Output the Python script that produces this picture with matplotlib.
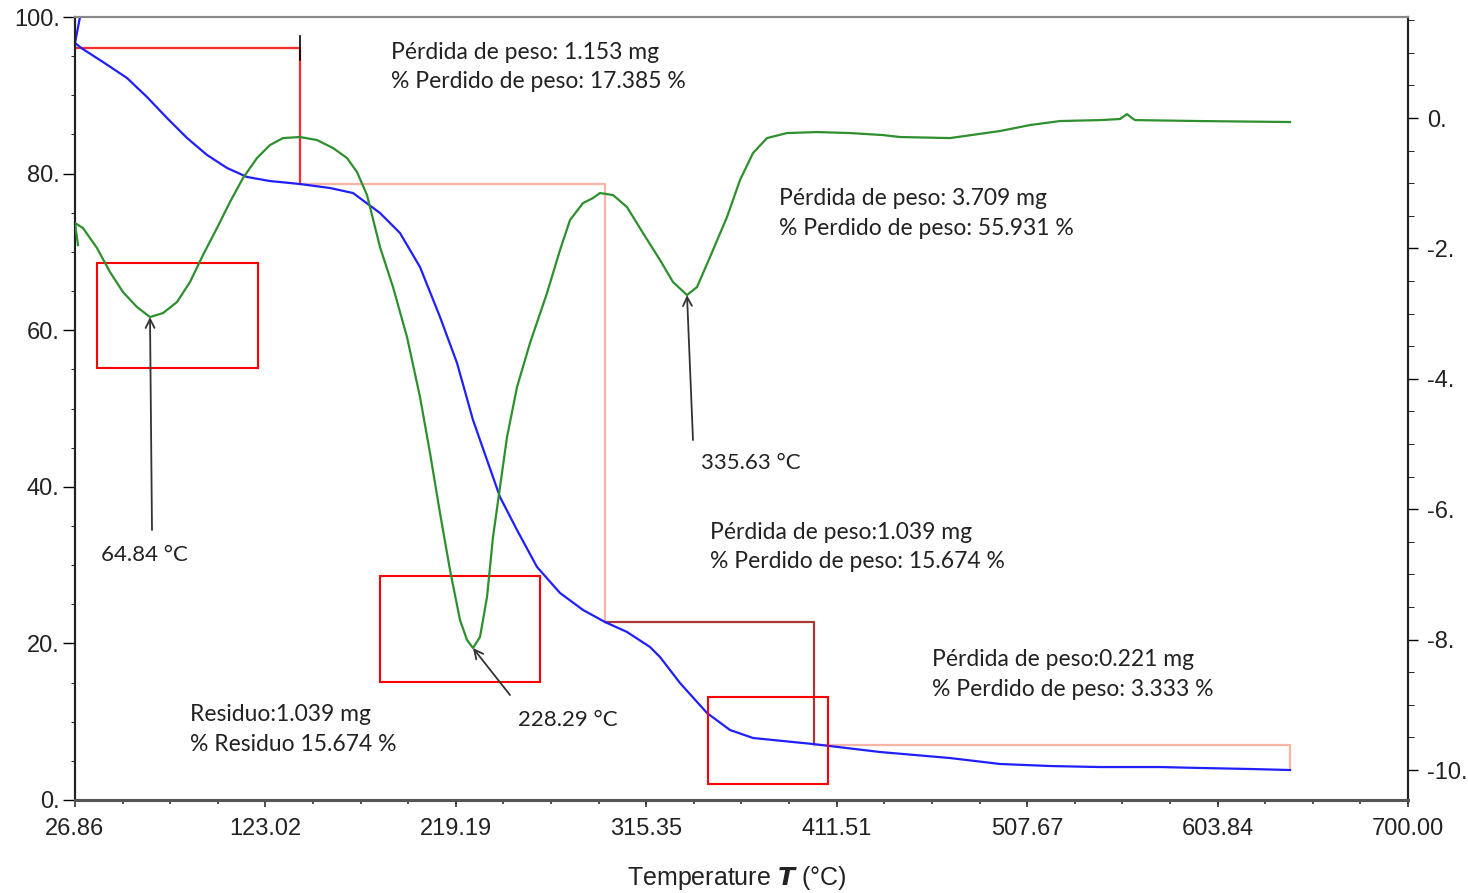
import numpy as np
import matplotlib.pyplot as plt
from matplotlib.ticker import MultipleLocator, FixedLocator, FuncFormatter

# TGA curve (left axis, weight %)
tga_temp = [29.38, 26.86, 30.24, 41.00, 53.12, 63.22, 73.32, 83.42, 93.52, 103.62,
            113.72, 125.33, 140.48, 155.63, 167.25, 180.88, 190.98, 201.08, 211.18,
            219.77, 227.85, 234.92, 241.48, 250.07, 260.17, 271.78, 283.40, 294.50,
            305.61, 317.23, 322.28, 332.38, 346.01, 357.63, 369.24, 399.54, 433.38,
            468.73, 493.98, 519.23, 544.47, 574.77, 594.97, 620.22, 640.42]
tga_weight = [100.0, 96.68, 96.00, 94.25, 92.21, 89.78, 87.10, 84.55, 82.38, 80.72,
              79.57, 79.05, 78.67, 78.16, 77.52, 74.97, 72.41, 68.07, 61.69,
              55.81, 48.53, 43.42, 38.70, 34.48, 29.76, 26.44, 24.27, 22.73,
              21.46, 19.54, 18.26, 14.94, 11.11, 8.94, 7.92, 7.15, 6.13,
              5.36, 4.60, 4.34, 4.21, 4.21, 4.09, 3.96, 3.83]

# DTG curve (right axis)
dtg_temp = [28.37, 26.86, 30.90, 37.97, 44.53, 51.10, 58.17, 64.73, 71.30, 78.37,
            84.93, 91.50, 98.57, 105.13, 111.70, 118.77, 125.33, 131.90, 140.48,
            149.07, 157.15, 164.22, 169.27, 174.32, 180.88, 187.45, 194.52, 201.08,
            206.13, 211.18, 216.23, 221.28, 224.82, 227.85, 231.38, 234.92, 237.95,
            241.48, 245.02, 250.07, 256.63, 265.22, 271.78, 276.83, 283.40, 288.45,
            291.98, 298.54, 305.61, 313.69, 322.28, 328.84, 335.91, 340.96, 347.53,
            356.11, 362.68, 369.24, 376.31, 386.41, 401.56, 418.23, 434.89, 443.48,
            468.73, 493.98, 509.13, 524.28, 544.47, 554.57, 558.11, 560.63, 562.15,
            594.97, 640.42]
dtg_value = [-1.948, -1.610, -1.687, -1.994, -2.362, -2.669, -2.899, -3.052, -2.991, -2.822,
             -2.515, -2.101, -1.687, -1.288, -0.920, -0.613, -0.414, -0.307, -0.291,
             -0.337, -0.460, -0.613, -0.828, -1.181, -1.979, -2.592, -3.359, -4.279,
             -5.138, -6.058, -6.933, -7.699, -8.006, -8.129, -7.960, -7.347, -6.426,
             -5.660, -4.893, -4.126, -3.451, -2.684, -2.025, -1.564, -1.304, -1.227,
             -1.150, -1.181, -1.365, -1.764, -2.178, -2.515, -2.715, -2.592, -2.132,
             -1.518, -0.951, -0.537, -0.307, -0.230, -0.215, -0.230, -0.261, -0.291,
             -0.307, -0.199, -0.107, -0.046, -0.031, -0.015, 0.061, 0.0, -0.031,
             -0.046, -0.061]

# weight-loss steps: (start T, end T, start weight, end weight)
step_t0 = [26.86, 140.48, 294.50, 400.0]
step_t1 = [140.48, 294.50, 400.0, 640.42]
step_w0 = [96.04, 78.67, 22.73, 7.02]
step_w1 = [78.67, 22.73, 7.02, 3.83]
step_colors = ['#ff2a2a', '#f9b4a6', '#a83838', '#f9b4a6']

# highlight boxes (T0, T1, w0, w1)
boxes = [(37.97, 119.27, 55.17, 68.58),
         (180.88, 261.67, 15.07, 28.61),
         (346.5, 407.1, 2.04, 13.15)]

# peak annotations (right axis units)
peak_labels = ['64.84 °C', '228.29 °C', '335.63 °C']
peak_xy = [(64.73, -3.052), (227.85, -8.129), (335.91, -2.715)]
peak_tail = [(65.74, -6.319), (246.53, -8.850), (338.94, -4.939)]
peak_text = [(39.99, -6.702), (250.57, -9.233), (342.98, -5.291)]

# step texts (left axis units)
step_line1 = ['Pérdida de peso: 1.153 mg', 'Pérdida de peso: 3.709 mg',
              'Pérdida de peso:1.039 mg', 'Pérdida de peso:0.221 mg', 'Residuo:1.039 mg']
step_line2 = ['% Perdido de peso: 17.385 %', '% Perdido de peso: 55.931 %',
              '% Perdido de peso: 15.674 %', '% Perdido de peso: 3.333 %', '% Residuo 15.674 %']
step_text_x = [186.44, 382.37, 347.53, 459.64, 84.93]
step_text_y1 = [95.53, 76.88, 34.10, 17.88, 10.98]
step_text_y2 = [91.70, 73.05, 30.40, 14.05, 7.15]

xticks = [26.86, 123.02, 219.19, 315.35, 411.51, 507.67, 603.84, 700.00]

fig = plt.figure(figsize=(14.68, 8.93), dpi=100)
ax = fig.add_axes([75 / 1468, 1 - 800 / 893, 1333 / 1468, 783 / 893])
ax2 = ax.twinx()

ax.set_xlim(26.86, 700.0)
ax.set_ylim(0, 100)
ax2.set_ylim(-10.46, 1.55)

tick_font = ['Liberation Sans Narrow', 'Liberation Sans', 'DejaVu Sans']
txt_font = ['Lato', 'DejaVu Sans']

ax.xaxis.set_major_locator(FixedLocator(xticks))
ax.xaxis.set_minor_locator(FixedLocator(
    [xticks[0] + i * (xticks[1] - xticks[0]) / 4 for i in range(29)]))
ax.xaxis.set_major_formatter(FuncFormatter(lambda v, p: '%.2f' % v))
ax.yaxis.set_major_locator(MultipleLocator(20))
ax.yaxis.set_minor_locator(MultipleLocator(5))
ax.yaxis.set_major_formatter(FuncFormatter(lambda v, p: '%d.' % round(v)))
ax2.yaxis.set_major_locator(MultipleLocator(2))
ax2.yaxis.set_minor_locator(MultipleLocator(0.5))
ax2.yaxis.set_major_formatter(FuncFormatter(lambda v, p: '%d.' % round(v)))

ax.tick_params(axis='x', labelsize=17, labelcolor='#222222', length=5, width=1.2,
               pad=8, color='#333333')
ax.tick_params(axis='x', which='minor', length=3, width=1.2, color='#333333')
ax.tick_params(axis='y', labelsize=17, labelcolor='#222222', length=9, width=1, pad=2)
ax.tick_params(axis='y', which='minor', length=3)
ax2.tick_params(axis='y', labelsize=17, labelcolor='#222222', length=7, width=1, pad=7)
ax2.tick_params(axis='y', which='minor', length=4)
for lab in ax.get_xticklabels() + ax.get_yticklabels() + ax2.get_yticklabels():
    lab.set_family(tick_font if lab in ax.get_xticklabels() else ['Liberation Sans', 'DejaVu Sans'])

for a in (ax, ax2):
    for name, s in a.spines.items():
        s.set_color('#222222')
        s.set_linewidth(1.5)
    a.spines['top'].set_color('#888888')
    a.spines['bottom'].set_color('#555555')
    a.spines['bottom'].set_linewidth(2.2)

ax.set_xlabel(r'Temperature $\boldsymbol{T}$ (°C)', family=tick_font, fontsize=18,
              color='#222222', va='center')
ax.xaxis.set_label_coords(0.4966, -0.0996)

ax.plot(tga_temp, tga_weight, color='#1f1fff', lw=1.6, zorder=3)
ax2.plot(dtg_temp, dtg_value, color='#2e8f2e', lw=1.6, zorder=3)

for t0, t1, w0, w1, c in zip(step_t0, step_t1, step_w0, step_w1, step_colors):
    ax.plot([t0, t1, t1], [w0, w0, w1], color=c, lw=1.6, zorder=2)
ax.plot([step_t1[0], step_t1[0]], [94.51, 97.57], color='black', lw=1.2, zorder=2)

for t0, t1, w0, w1 in boxes:
    ax.add_patch(plt.Rectangle((t0, w0), t1 - t0, w1 - w0, fill=False,
                               edgecolor='#ff0000', lw=1.5, zorder=4))

for lab, xy, tail, tp in zip(peak_labels, peak_xy, peak_tail, peak_text):
    ax2.annotate('', xy=xy, xytext=tail,
                 arrowprops=dict(arrowstyle='->', color='#333333', lw=1.3,
                                 shrinkA=0, shrinkB=0, mutation_scale=16))
    ax2.text(tp[0], tp[1], lab, family=txt_font, fontsize=16, color='#222222',
             ha='left', va='center')

for l1, l2, tx, y1, y2 in zip(step_line1, step_line2, step_text_x, step_text_y1, step_text_y2):
    ax.text(tx, y1, l1, family=txt_font, fontsize=16.5, color='#222222', ha='left', va='center')
    ax.text(tx, y2, l2, family=txt_font, fontsize=16.5, color='#222222', ha='left', va='center')

fig.savefig('out.png', dpi=100)
